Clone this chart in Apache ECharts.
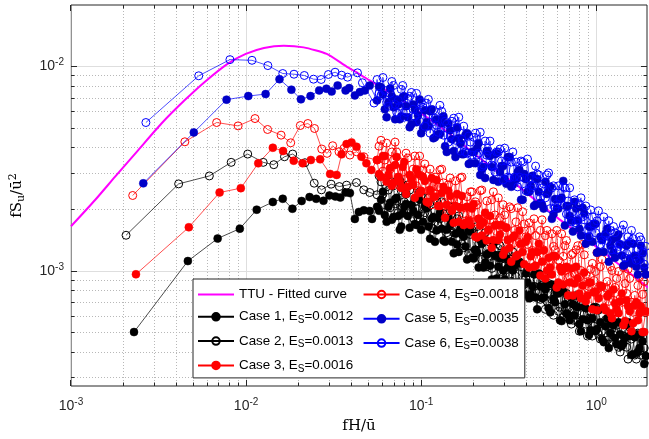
<!DOCTYPE html>
<html><head><meta charset="utf-8">
<script src="https://cdn.jsdelivr.net/npm/echarts/dist/echarts.min.js"></script>
<style>html,body{margin:0;padding:0;background:#fff}#c{width:649px;height:439px}</style>
</head><body><div id="c"></div>
<script>
// ---------------- data ----------------
const xTickMajor = [0.001, 0.01, 0.1, 1];
const xTickMinor = [0.002,0.003,0.004,0.005,0.006,0.007,0.008,0.009,0.02,0.03,0.04,0.05,0.06,0.07,0.08,0.09,0.2,0.3,0.4,0.5,0.6,0.7,0.8,0.9];
const yTickMajor = [0.001, 0.01];
const yTickMinor = [0.0003,0.0004,0.0005,0.0006,0.0007,0.0008,0.0009,0.002,0.003,0.004,0.005,0.006,0.007,0.008,0.009];

const seriesNames = ['TTU - Fitted curve','Case 1, ES=0.0012','Case 2, ES=0.0013','Case 3, ES=0.0016','Case 4, ES=0.0018','Case 5, ES=0.0035','Case 6, ES=0.0038'];

const ttuFreq = [0.001,0.001377,0.001787,0.002422,0.003286,0.004453,0.005781,0.007834,0.00996,0.01265,0.01642,0.02131,0.02888,0.0375,0.04367,0.05087,0.0671,0.0895,0.1413,0.2231,0.352,0.5684,1.067,2.0];
const ttuSpectrum = [0.001655,0.002232,0.002895,0.003905,0.005266,0.006836,0.008387,0.01031,0.01153,0.01233,0.01265,0.01241,0.01153,0.0100,0.00927,0.00855,0.00739,0.00632,0.004781,0.003491,0.00263,0.001887,0.00126,0.000823];

const case1LowX = [0.00229,0.00465,0.00688,0.00921,0.0115,0.01422,0.0162,0.01839,0.02076,0.02305,0.02515,0.02767,0.02991,0.03236,0.03453,0.03701,0.03919,0.04182,0.04407,0.04703,0.05087,0.05242];
const case1LowY = [0.000503,0.001119,0.001442,0.001612,0.001995,0.002176,0.002256,0.002017,0.0022,0.0023,0.002256,0.002206,0.002341,0.002315,0.002289,0.002421,0.002405,0.001798,0.001945,0.00198,0.001966,0.001798];
const case2LowX = [0.002063,0.00412,0.00617,0.00822,0.01022,0.01253,0.0144,0.01657,0.01846,0.02168,0.0245,0.02696,0.0306,0.0341,0.03749,0.04272,0.04703,0.05087];
const case2LowY = [0.001496,0.002668,0.002918,0.0034,0.003733,0.0034,0.003312,0.003622,0.003733,0.003386,0.002689,0.002495,0.002659,0.002589,0.00263,0.002709,0.002495,0.002421];
const case3LowX = [0.00235,0.00471,0.00706,0.00933,0.01174,0.01422,0.01627,0.01871,0.02104,0.02344,0.02649,0.0302,0.03291,0.03513,0.03749,0.04002,0.04272,0.04559,0.04867,0.05195];
const case3LowY = [0.000964,0.001637,0.002421,0.002543,0.003365,0.004008,0.003862,0.003464,0.003365,0.003491,0.003519,0.002985,0.002952,0.003721,0.004176,0.004256,0.004053,0.003622,0.003365,0.003122];
const case4LowX = [0.002251,0.004471,0.00679,0.009009,0.01125,0.01327,0.01585,0.01799,0.02041,0.02254,0.0246,0.02706,0.02903,0.03124,0.03395,0.03624,0.03919,0.04272,0.04703];
const case4LowY = [0.002341,0.004285,0.005325,0.005127,0.005568,0.004923,0.004619,0.004237,0.005149,0.005266,0.004978,0.003951,0.003763,0.0041,0.003831,0.003981,0.003692,0.003831,0.003622];
const case5LowX = [0.002588,0.005028,0.007735,0.0103,0.01293,0.01552,0.01815,0.02057,0.02334,0.02616,0.02877,0.03083,0.03334,0.03701,0.03882,0.04182,0.04465,0.04766,0.05087];
const case5LowY = [0.002684,0.004762,0.006889,0.007173,0.007336,0.008675,0.007705,0.006912,0.007173,0.007645,0.007793,0.007559,0.008083,0.007645,0.007845,0.007228,0.0075,0.007645,0.008083];
const case6LowX = [0.002678,0.005366,0.008085,0.01081,0.01332,0.0162,0.01878,0.02151,0.02428,0.02685,0.02953,0.03224,0.03513,0.038,0.04329,0.0462,0.05381];
const case6LowY = [0.005325,0.009012,0.01081,0.01073,0.01011,0.009246,0.009174,0.009042,0.008675,0.008645,0.009143,0.009382,0.009072,0.008872,0.009319,0.008333,0.006632];

const freqHigh = [0.056,0.059,0.062,0.065,0.068,0.071,0.074,0.077,0.080,0.084,0.088,0.092,0.096,0.100,0.105,0.110,0.115,0.120,0.125,0.131,0.137,0.143,0.150,0.157,0.164,0.171,0.179,0.187,0.195,0.204,0.213,0.222,0.232,0.242,0.253,0.264,0.276,0.288,0.300,0.313,0.327,0.341,0.356,0.372,0.388,0.405,0.423,0.441,0.460,0.480,0.501,0.523,0.546,0.570,0.595,0.621,0.648,0.676,0.705,0.736,0.768,0.801,0.836,0.872,0.910,0.950,0.991,1.03,1.08,1.13,1.18,1.23,1.28,1.34,1.40,1.46,1.52,1.59,1.66,1.73,1.80,1.88,1.96];
const freqHigh2 = [0.0575,0.0605,0.0635,0.0665,0.0695,0.0725,0.0755,0.0785,0.082,0.086,0.090,0.094,0.098,0.1025,0.1075,0.1125,0.1175,0.1225,0.128,0.134,0.140,0.1465,0.1535,0.1605,0.1675,0.175,0.183,0.191,0.1995,0.2085,0.2175,0.227,0.237,0.2475,0.2585,0.270,0.282,0.294,0.3065,0.320,0.334,0.3485,0.364,0.380,0.3965,0.414,0.432,0.4505,0.470,0.4905,0.512,0.5345,0.558,0.5825,0.608,0.6345,0.662,0.6905,0.7205,0.752,0.7845,0.8185,0.854,0.891,0.930,0.9705,1.01,1.055,1.105,1.155,1.205,1.255,1.31,1.37,1.43,1.49,1.555,1.625,1.695,1.765,1.84,1.92,1.99];

const case1HighY = [2.06e-3,2.23e-3,1.88e-3,2.06e-3,1.78e-3,2.25e-3,1.86e-3,1.65e-3,2.06e-3,1.86e-3,
2.11e-3,1.70e-3,1.88e-3,1.59e-3,2.08e-3,1.65e-3,1.80e-3,1.39e-3,1.82e-3,1.61e-3,
1.39e-3,1.82e-3,1.39e-3,1.52e-3,1.24e-3,1.51e-3,1.32e-3,1.58e-3,1.16e-3,1.27e-3,
1.04e-3,1.36e-3,1.10e-3,1.22e-3,9.09e-4,1.19e-3,1.05e-3,1.20e-3,9.09e-4,1.04e-3,
8.04e-4,1.064e-3,8.79e-4,1.09e-3,7.69e-4,8.79e-4,7.69e-4,9.62e-4,6.50e-4,8.41e-4,
7.43e-4,8.60e-4,6.29e-4,7.27e-4,7.86e-4,5.75e-4,7.95e-4,6.22e-4,5.75e-4,6.87e-4,
7.60e-4,5.50e-4,5.81e-4,6.58e-4,4.86e-4,5.88e-4,5.08e-4,6.43e-4,4.65e-4,5.37e-4,
4.20e-4,5.50e-4,4.70e-4,5.62e-4,4.29e-4,4.70e-4,5.62e-4,3.88e-4,4.75e-4,4.02e-4,
4.91e-4,3.51e-4,4.29e-4];
const case1HighY2 = [1.97e-3,2.44e-3,1.74e-3,2.16e-3,1.84e-3,2.28e-3,1.59e-3,1.91e-3,2.13e-3,1.63e-3,
1.97e-3,1.68e-3,2.23e-3,1.74e-3,2.02e-3,1.44e-3,1.84e-3,1.58e-3,1.93e-3,1.41e-3,
1.59e-3,1.68e-3,1.22e-3,1.35e-3,1.61e-3,1.47e-3,1.14e-3,1.56e-3,1.15e-3,1.23e-3,
1.42e-3,1.04e-3,1.20e-3,1.06e-3,1.36e-3,9.20e-4,1.15e-3,1.006e-3,1.15e-3,8.13e-4,
1.006e-3,8.41e-4,1.10e-3,8.50e-4,9.73e-4,7.35e-4,8.41e-4,7.43e-4,9.73e-4,7.35e-4,
8.13e-4,6.58e-4,8.60e-4,7.03e-4,7.77e-4,5.69e-4,6.87e-4,6.08e-4,7.43e-4,6.08e-4,
6.65e-4,5.08e-4,6.65e-4,5.75e-4,5.14e-4,6.65e-4,5.20e-4,5.62e-4,4.49e-4,5.88e-4,
4.97e-4,5.43e-4,4.39e-4,4.91e-4,4.44e-4,5.43e-4,4.81e-4,3.92e-4,4.91e-4,4.20e-4,
4.54e-4,3.84e-4,4.11e-4];
const case2HighY = [2.36e-3,2.73e-3,2.11e-3,2.49e-3,2.73e-3,2.13e-3,1.93e-3,2.47e-3,2.18e-3,2.64e-3,
1.95e-3,2.18e-3,1.82e-3,2.33e-3,1.93e-3,2.28e-3,1.63e-3,1.97e-3,1.68e-3,2.18e-3,
1.70e-3,1.51e-3,1.84e-3,1.65e-3,1.86e-3,1.36e-3,1.59e-3,1.22e-3,1.59e-3,1.27e-3,
1.36e-3,1.14e-3,1.54e-3,1.18e-3,1.03e-3,1.26e-3,1.29e-3,9.95e-4,1.06e-3,1.24e-3,
8.89e-4,1.04e-3,7.95e-4,1.05e-3,8.60e-4,1.04e-3,7.43e-4,8.41e-4,9.09e-4,7.27e-4,
9.51e-4,7.11e-4,7.77e-4,6.08e-4,8.13e-4,6.65e-4,5.95e-4,7.77e-4,6.50e-4,5.75e-4,
6.72e-4,5.08e-4,6.80e-4,5.50e-4,5.88e-4,4.81e-4,6.65e-4,4.91e-4,5.08e-4,5.75e-4,
4.39e-4,5.25e-4,5.81e-4,4.24e-4,4.39e-4,5.14e-4,3.71e-4,4.65e-4,3.88e-4,4.97e-4,
3.88e-4,4.20e-4,3.43e-4];
const case2HighY2 = [2.92e-3,2.38e-3,2.58e-3,2.04e-3,2.61e-3,2.20e-3,2.76e-3,2.04e-3,2.38e-3,2.49e-3,
1.82e-3,2.02e-3,2.44e-3,1.86e-3,2.11e-3,2.16e-3,1.61e-3,2.20e-3,1.80e-3,1.91e-3,
1.54e-3,2.06e-3,1.54e-3,1.80e-3,1.58e-3,1.30e-3,1.70e-3,1.51e-3,1.24e-3,1.65e-3,
1.27e-3,1.39e-3,1.05e-3,1.38e-3,1.09e-3,1.19e-3,1.33e-3,9.40e-4,1.14e-3,9.40e-4,
1.24e-3,9.40e-4,1.11e-3,7.95e-4,9.20e-4,9.84e-4,7.69e-4,7.95e-4,9.62e-4,8.50e-4,
6.50e-4,8.69e-4,7.27e-4,7.86e-4,6.36e-4,8.22e-4,6.36e-4,7.43e-4,5.50e-4,6.29e-4,
5.62e-4,6.95e-4,6.15e-4,4.81e-4,6.29e-4,5.37e-4,6.58e-4,4.65e-4,5.56e-4,4.59e-4,
5.88e-4,4.86e-4,5.43e-4,4.02e-4,4.81e-4,4.24e-4,5.31e-4,4.81e-4,3.71e-4,4.06e-4,
4.75e-4,3.67e-4,4.24e-4];
const case3HighY = [3.49e-3,2.88e-3,3.65e-3,2.95e-3,2.61e-3,3.30e-3,2.88e-3,2.55e-3,3.41e-3,2.58e-3,
2.82e-3,2.28e-3,2.98e-3,2.47e-3,2.76e-3,2.16e-3,2.85e-3,2.31e-3,2.08e-3,2.41e-3,
1.82e-3,2.47e-3,1.97e-3,2.08e-3,1.74e-3,2.33e-3,1.72e-3,1.76e-3,2.02e-3,1.47e-3,
1.80e-3,1.49e-3,1.93e-3,1.59e-3,1.30e-3,1.67e-3,1.42e-3,1.68e-3,1.26e-3,1.42e-3,
1.11e-3,1.49e-3,1.20e-3,1.36e-3,1.08e-3,1.46e-3,1.18e-3,1.05e-3,1.24e-3,9.51e-4,
1.26e-3,1.006e-3,1.04e-3,1.19e-3,8.31e-4,1.04e-3,8.60e-4,1.05e-3,8.79e-4,7.60e-4,
1.05e-3,7.77e-4,8.50e-4,7.11e-4,8.79e-4,6.50e-4,7.95e-4,7.35e-4,8.41e-4,6.43e-4,
7.69e-4,5.88e-4,6.95e-4,6.22e-4,7.77e-4,5.69e-4,6.72e-4,5.08e-4,6.80e-4,5.75e-4,
6.72e-4,5.03e-4,6.15e-4];
const case3HighY2 = [2.98e-3,3.65e-3,2.73e-3,3.19e-3,2.70e-3,3.61e-3,2.73e-3,3.23e-3,2.38e-3,2.95e-3,
2.64e-3,3.15e-3,2.41e-3,2.88e-3,2.18e-3,2.49e-3,2.31e-3,2.79e-3,2.08e-3,2.58e-3,
2.11e-3,2.33e-3,1.72e-3,2.38e-3,2.04e-3,1.68e-3,2.06e-3,1.68e-3,2.13e-3,1.46e-3,
1.67e-3,1.72e-3,1.41e-3,1.86e-3,1.42e-3,1.68e-3,1.51e-3,1.20e-3,1.63e-3,1.30e-3,
1.46e-3,1.18e-3,1.58e-3,1.24e-3,1.39e-3,1.04e-3,1.24e-3,1.06e-3,1.36e-3,1.11e-3,
9.20e-4,1.16e-3,9.62e-4,1.18e-3,8.79e-4,9.95e-4,1.03e-3,7.60e-4,1.03e-3,8.69e-4,
9.20e-4,7.35e-4,9.84e-4,7.60e-4,8.79e-4,7.86e-4,6.43e-4,8.50e-4,6.65e-4,7.52e-4,
6.22e-4,8.13e-4,6.50e-4,7.11e-4,5.43e-4,7.19e-4,6.36e-4,5.56e-4,7.03e-4,6.22e-4,
5.03e-4,6.36e-4,5.25e-4];
const case4HighY = [3.49e-3,4.36e-3,3.49e-3,2.88e-3,3.82e-3,4.27e-3,2.88e-3,3.41e-3,2.55e-3,3.57e-3,
2.85e-3,3.65e-3,2.47e-3,2.92e-3,3.34e-3,2.47e-3,2.11e-3,2.88e-3,2.58e-3,3.15e-3,
2.16e-3,2.64e-3,1.99e-3,2.76e-3,2.23e-3,2.88e-3,2.04e-3,1.78e-3,2.44e-3,2.18e-3,
1.80e-3,2.49e-3,1.88e-3,1.58e-3,2.23e-3,1.88e-3,2.28e-3,1.65e-3,1.88e-3,1.42e-3,
2.02e-3,1.58e-3,2.04e-3,1.35e-3,1.70e-3,1.35e-3,1.58e-3,1.80e-3,1.15e-3,1.58e-3,
1.27e-3,1.58e-3,1.11e-3,1.32e-3,1.58e-3,1.11e-3,1.18e-3,1.41e-3,9.40e-4,1.22e-3,
1.27e-3,9.30e-4,1.35e-3,9.62e-4,8.41e-4,1.09e-3,9.95e-4,8.22e-4,1.14e-3,8.31e-4,
7.11e-4,1.006e-3,8.31e-4,9.95e-4,7.03e-4,8.69e-4,1.02e-3,7.03e-4,7.60e-4,8.50e-4,
6.36e-4,8.89e-4,6.72e-4];
const case4HighY2 = [4.08e-3,3.08e-3,4.22e-3,3.15e-3,3.49e-3,3.82e-3,2.61e-3,3.05e-3,3.77e-3,2.64e-3,
3.15e-3,2.61e-3,3.65e-3,3.12e-3,2.31e-3,3.15e-3,2.61e-3,2.38e-3,3.12e-3,2.70e-3,
1.93e-3,2.85e-3,2.08e-3,2.20e-3,2.85e-3,1.91e-3,2.31e-3,2.44e-3,1.74e-3,2.11e-3,
2.47e-3,1.76e-3,2.20e-3,1.78e-3,2.44e-3,1.56e-3,1.82e-3,2.11e-3,1.63e-3,2.06e-3,
1.36e-3,1.74e-3,1.38e-3,1.95e-3,1.47e-3,1.72e-3,1.26e-3,1.49e-3,1.26e-3,1.78e-3,
1.49e-3,1.11e-3,1.52e-3,1.27e-3,1.13e-3,1.52e-3,1.33e-3,9.30e-4,1.20e-3,9.73e-4,
1.33e-3,1.006e-3,1.20e-3,8.22e-4,1.02e-3,8.99e-4,1.23e-3,1.05e-3,7.86e-4,8.89e-4,
1.05e-3,7.19e-4,9.20e-4,7.35e-4,1.04e-3,7.77e-4,9.20e-4,6.29e-4,6.95e-4,9.30e-4,
7.69e-4,6.29e-4,7.86e-4];
const case5HighY = [6.83e-3,7.90e-3,6.18e-3,6.68e-3,7.15e-3,5.52e-3,6.53e-3,5.71e-3,7.15e-3,5.65e-3,
5.22e-3,6.18e-3,5.77e-3,4.72e-3,6.11e-3,5.11e-3,6.18e-3,4.51e-3,4.67e-3,5.28e-3,
4.08e-3,5.28e-3,4.41e-3,3.61e-3,4.46e-3,3.73e-3,4.62e-3,3.34e-3,3.82e-3,3.37e-3,
4.22e-3,3.15e-3,2.85e-3,3.73e-3,3.23e-3,3.73e-3,2.73e-3,3.26e-3,2.82e-3,3.61e-3,
2.58e-3,2.85e-3,3.05e-3,2.23e-3,2.98e-3,2.44e-3,2.61e-3,2.08e-3,2.82e-3,2.16e-3,
2.02e-3,2.38e-3,2.58e-3,1.90e-3,2.02e-3,2.25e-3,2.76e-3,2.08e-3,1.86e-3,1.56e-3,
2.02e-3,1.61e-3,2.04e-3,1.36e-3,1.65e-3,1.39e-3,1.70e-3,1.24e-3,1.42e-3,1.52e-3,
1.11e-3,1.42e-3,1.16e-3,1.51e-3,1.19e-3,1.08e-3,1.36e-3,1.09e-3,1.19e-3,9.62e-4,
1.33e-3,1.04e-3,9.51e-4];
const case5HighY2 = [7.99e-3,7.31e-3,5.65e-3,7.82e-3,6.32e-3,6.91e-3,5.52e-3,7.07e-3,6.39e-3,5.05e-3,
6.53e-3,5.34e-3,6.91e-3,4.99e-3,5.34e-3,6.04e-3,4.46e-3,5.52e-3,4.67e-3,5.71e-3,
3.82e-3,4.88e-3,3.86e-3,5.05e-3,4.22e-3,3.73e-3,4.72e-3,3.37e-3,3.82e-3,3.99e-3,
2.95e-3,3.23e-3,3.86e-3,3.65e-3,2.79e-3,3.77e-3,3.05e-3,3.26e-3,2.67e-3,3.61e-3,
2.64e-3,2.82e-3,3.12e-3,2.23e-3,2.82e-3,2.44e-3,2.92e-3,2.11e-3,2.44e-3,2.11e-3,
2.73e-3,2.44e-3,1.80e-3,2.25e-3,2.02e-3,2.28e-3,1.67e-3,2.08e-3,1.76e-3,2.18e-3,
1.76e-3,1.49e-3,1.91e-3,1.47e-3,1.65e-3,1.70e-3,1.23e-3,1.47e-3,1.24e-3,1.61e-3,
1.33e-3,1.23e-3,1.46e-3,1.35e-3,1.06e-3,1.33e-3,1.15e-3,1.36e-3,1.05e-3,1.13e-3,
1.22e-3,9.62e-4,1.11e-3];
const case6HighY = [8.64e-3,7.22e-3,7.64e-3,6.39e-3,8.45e-3,6.53e-3,6.83e-3,7.73e-3,5.65e-3,6.99e-3,
7.47e-3,5.71e-3,6.04e-3,6.68e-3,5.11e-3,6.91e-3,5.34e-3,5.59e-3,4.77e-3,6.04e-3,
5.40e-3,4.27e-3,5.40e-3,4.36e-3,5.65e-3,4.41e-3,3.82e-3,4.57e-3,3.69e-3,4.72e-3,
3.77e-3,3.23e-3,4.32e-3,3.86e-3,3.30e-3,3.05e-3,3.82e-3,3.45e-3,3.99e-3,2.88e-3,
3.41e-3,2.88e-3,2.58e-3,3.45e-3,2.85e-3,3.53e-3,2.52e-3,2.61e-3,2.98e-3,2.28e-3,
2.67e-3,2.95e-3,2.02e-3,2.61e-3,2.13e-3,2.25e-3,2.58e-3,1.90e-3,2.55e-3,1.95e-3,
1.72e-3,2.13e-3,1.84e-3,2.08e-3,1.47e-3,1.84e-3,1.54e-3,1.97e-3,1.42e-3,1.49e-3,
1.76e-3,1.27e-3,1.54e-3,1.32e-3,1.59e-3,1.16e-3,1.47e-3,1.58e-3,1.18e-3,1.27e-3,
1.42e-3,1.08e-3,1.30e-3];
const case6HighY2 = [7.39e-3,8.84e-3,6.68e-3,7.39e-3,8.08e-3,5.97e-3,6.39e-3,8.08e-3,5.97e-3,7.15e-3,
6.18e-3,7.39e-3,5.40e-3,6.32e-3,6.61e-3,4.72e-3,6.11e-3,5.16e-3,6.46e-3,4.62e-3,
5.22e-3,4.57e-3,5.59e-3,4.99e-3,3.86e-3,5.11e-3,3.77e-3,4.27e-3,4.51e-3,3.69e-3,
4.77e-3,3.30e-3,3.69e-3,4.32e-3,3.26e-3,3.82e-3,3.95e-3,2.79e-3,3.45e-3,2.85e-3,
3.82e-3,3.41e-3,2.88e-3,3.41e-3,2.47e-3,2.85e-3,2.61e-3,3.26e-3,2.95e-3,2.55e-3,
2.28e-3,3.02e-3,2.55e-3,2.04e-3,2.61e-3,2.11e-3,2.55e-3,2.20e-3,1.74e-3,2.23e-3,
1.78e-3,2.28e-3,1.78e-3,1.59e-3,1.99e-3,1.70e-3,1.76e-3,1.35e-3,1.84e-3,1.41e-3,
1.58e-3,1.65e-3,1.27e-3,1.35e-3,1.68e-3,1.22e-3,1.38e-3,1.44e-3,1.13e-3,1.47e-3,
1.24e-3,1.32e-3,1.11e-3];

// ---------------- chart ----------------
const X_MIN = 0.001, X_MAX = 1.95, Y_MIN = 0.000274, Y_MAX = 0.02;
const SANS = 'Liberation Sans', SERIF = 'DejaVu Serif';
const AX = '#262626';

function pairs(xs, ys){ return xs.map((x,i)=>[x, ys[i]]); }
function caseData(lx, ly, hy, hy2){
  const out = pairs(lx, ly);
  freqHigh.forEach((x,i)=>{ out.push([x, hy[i]]); out.push([freqHigh2[i], hy2[i]]); });
  return out;
}
function powLabel(v){ const e = Math.round(Math.log10(v)); return '{b|10}{s|' + e + '}'; }
const tickRich = {
  b: {fontFamily: SANS, fontSize: 14, color: AX},
  s: {fontFamily: SANS, fontSize: 10, color: AX, padding: [0,0,8,0]}
};
function crisp(v){ return Math.round(v - 0.5) + 0.5; }

function xTickRender(params, api){
  const major = api.value(2) === 1;
  const cs = params.coordSys;
  const px = crisp(api.coord([api.value(0), Y_MIN])[0]);
  const top = cs.y, bot = cs.y + cs.height, L = major ? 6 : 3.5;
  return {type:'group', children:[
    {type:'line', shape:{x1:px,y1:top,x2:px,y2:bot}, style: major ? {stroke:'#dedede', lineWidth:1} : {stroke:'#b8b8b8', lineWidth:1, lineDash:[1,2]}},
    {type:'line', shape:{x1:px,y1:bot,x2:px,y2:bot-L}, style:{stroke:AX, lineWidth:1}},
    {type:'line', shape:{x1:px,y1:top,x2:px,y2:top+L}, style:{stroke:AX, lineWidth:1}}
  ]};
}
function yTickRender(params, api){
  const major = api.value(2) === 1;
  const cs = params.coordSys;
  const py = crisp(api.coord([X_MIN, api.value(1)])[1]);
  const l = cs.x, r = cs.x + cs.width, L = major ? 6 : 3.5;
  return {type:'group', children:[
    {type:'line', shape:{x1:l,y1:py,x2:r,y2:py}, style: major ? {stroke:'#dedede', lineWidth:1} : {stroke:'#b8b8b8', lineWidth:1, lineDash:[1,2]}},
    {type:'line', shape:{x1:l,y1:py,x2:l+L,y2:py}, style:{stroke:AX, lineWidth:1}},
    {type:'line', shape:{x1:r,y1:py,x2:r-L,y2:py}, style:{stroke:AX, lineWidth:1}}
  ]};
}

function scatterLine(name, data, color, filled, lineColor){
  return {
    name, type:'line', data, symbol:'circle', symbolSize: 8, showAllSymbol: true,
    lineStyle:{color: lineColor || color, width: 0.7},
    itemStyle:{color: filled ? color : 'rgba(255,255,255,0)', borderColor: color, borderWidth: filled ? 0.5 : 1},
    emphasis:{disabled:true}, z: 2
  };
}

const legendData = seriesNames.map((n,i)=> i === 0 ? {name: n, icon: 'path://M0,0L36,0L36,2L0,2Z'} : {name: n});

const chart = echarts.init(document.getElementById('c'), null, {renderer:'canvas'});
chart.setOption({
  animation: false,
  backgroundColor: '#ffffff',
  grid: {left: 66, right: 2, top: 5, bottom: 52, show: true, borderColor: AX, borderWidth: 1, backgroundColor: 'transparent'},
  xAxis: {
    type: 'log', logBase: 10, min: X_MIN, max: X_MAX,
    axisLine: {show: false}, axisTick: {show: false}, splitLine: {show: false}, minorTick: {show: false},
    axisLabel: {formatter: powLabel, rich: tickRich, margin: 11, showMinLabel: true, showMaxLabel: false},
    name: 'fH/ū', nameLocation: 'middle', nameGap: 33,
    nameTextStyle: {fontFamily: SERIF, fontSize: 15, color: '#000'}
  },
  yAxis: {
    type: 'log', logBase: 10, min: Y_MIN, max: Y_MAX,
    axisLine: {show: false}, axisTick: {show: false}, splitLine: {show: false}, minorTick: {show: false},
    axisLabel: {formatter: powLabel, rich: tickRich, margin: 7, showMinLabel: false, showMaxLabel: false},
    name: '{a|fS}{b|u}{a|/ū}{c|2}', nameLocation: 'middle', nameGap: 44,
    nameTextStyle: {fontFamily: SERIF, fontSize: 15, color: '#000', rich: {
      a: {fontFamily: SERIF, fontSize: 15, color: '#000'},
      b: {fontFamily: SERIF, fontSize: 11, color: '#000', padding: [8,0,0,0]},
      c: {fontFamily: SERIF, fontSize: 11, color: '#000', padding: [0,0,8,0]}
    }}
  },
  legend: {
    orient: 'vertical', left: 193, top: 279, height: 92,
    padding: [9, 6, 4, 4], itemGap: 9.3, itemWidth: 36, itemHeight: 9.4,
    backgroundColor: '#ffffff', borderColor: AX, borderWidth: 1, borderRadius: 0,
    selectedMode: false, z: 10,
    data: legendData,
    formatter: n => n.replace('ES=', 'E{s|S}='),
    textStyle: {fontFamily: SANS, fontSize: 13.4, color: '#000', rich: {
      s: {fontFamily: SANS, fontSize: 10, color: '#000', padding: [7,0,0,0]}
    }}
  },
  series: [
    {type:'custom', silent: true, z: 1, clip: false, renderItem: xTickRender, encode: {x:0, y:1},
     data: xTickMajor.map(v=>[v, Y_MIN, 1]).concat(xTickMinor.map(v=>[v, Y_MIN, 0]))},
    {type:'custom', silent: true, z: 1, clip: false, renderItem: yTickRender, encode: {x:0, y:1},
     data: yTickMajor.map(v=>[X_MIN, v, 1]).concat(yTickMinor.map(v=>[X_MIN, v, 0]))},
    {name: seriesNames[0], type:'line', data: pairs(ttuFreq, ttuSpectrum), symbol:'none', smooth: 0.2,
     lineStyle:{color:'#ff00ff', width:2}, itemStyle:{color:'#ff00ff'}, emphasis:{disabled:true}, z: 2},
    scatterLine(seriesNames[1], caseData(case1LowX, case1LowY, case1HighY, case1HighY2), '#000000', true),
    scatterLine(seriesNames[2], caseData(case2LowX, case2LowY, case2HighY, case2HighY2), '#000000', false),
    scatterLine(seriesNames[3], caseData(case3LowX, case3LowY, case3HighY, case3HighY2), '#ff0000', true),
    scatterLine(seriesNames[4], caseData(case4LowX, case4LowY, case4HighY, case4HighY2), '#ff0000', false),
    scatterLine(seriesNames[5], caseData(case5LowX, case5LowY, case5HighY, case5HighY2), '#0000c8', true, '#0000ff'),
    scatterLine(seriesNames[6], caseData(case6LowX, case6LowY, case6HighY, case6HighY2), '#0000ff', false)
  ]
});
</script></body></html>
